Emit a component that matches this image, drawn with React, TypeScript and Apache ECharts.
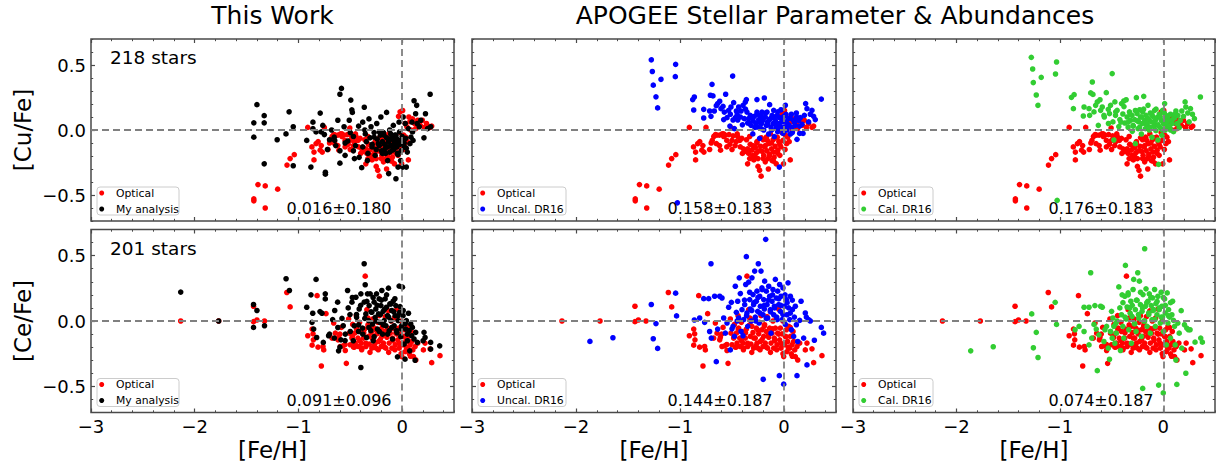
import React, { useEffect, useRef } from "react";
import * as echarts from "echarts";

// ---------- data: [ [Fe/H], [X/Fe] ] ----------
const cuOptical: number[][] = [
  [-1.43,-0.53],[-1.43,-0.545],[-1.39,-0.42],[-1.32,-0.43],[-1.32,-0.6],[-1.2,-0.455],[-1.11,-0.27],[-1.08,-0.22],[-1.04,-0.19],[-0.91,0.02],[-0.75,0.02],
  [-0.87,-0.13],[-0.85,-0.17],[-0.85,-0.23],[-0.83,-0.105],[-0.81,-0.09],[-0.79,-0.155],[-0.77,-0.17],[-0.715,-0.15],[-0.69,-0.08],[-0.675,-0.05],[-0.66,-0.035],[-0.645,-0.04],[-0.65,-0.105],[-0.62,-0.04],[-0.61,-0.155],[-0.595,-0.03],[-0.58,-0.05],[-0.565,-0.04],[-0.55,-0.13],[-0.53,-0.035],[-0.52,-0.11],[-0.505,0.015],[-0.5,-0.08],[-0.49,-0.045],[-0.47,-0.12],[-0.46,-0.09],[-0.445,-0.05],[-0.425,-0.08],[-0.42,-0.13],[-0.405,-0.065],[-0.39,-0.145],[-0.37,-0.165],[-0.36,-0.075],[-0.35,-0.145],[-0.34,-0.18],[-0.33,-0.22],[-0.325,-0.11],[-0.31,-0.155],[-0.3,-0.195],[-0.29,-0.23],[-0.275,-0.135],[-0.265,-0.175],[-0.26,-0.09],[-0.25,-0.22],[-0.235,-0.31],[-0.225,-0.125],[-0.22,-0.355],[-0.21,-0.165],[-0.2,-0.075],[-0.195,-0.195],[-0.185,-0.13],[-0.18,-0.245],[-0.17,-0.055],[-0.165,-0.16],[-0.155,-0.22],[-0.145,-0.105],[-0.14,-0.185],[-0.13,-0.03],[-0.12,-0.145],[-0.115,-0.235],[-0.105,-0.075],[-0.1,-0.17],[-0.095,-0.21],[-0.085,-0.125],[-0.075,-0.26],[-0.065,-0.055],[-0.06,-0.155],[-0.05,-0.09],[-0.04,-0.195],[-0.035,0.105],[-0.03,-0.13],[-0.02,0.14],[-0.01,-0.08],[-0.005,-0.26],[0.005,0.15],[0.015,-0.04],[0.025,-0.105],[0.035,-0.055],[0.045,0.025],[0.06,-0.23],[0.065,0.1],[0.075,0.065],[0.085,0.0],[0.1,0.085],[0.12,0.05],[0.13,0.01],[0.15,0.075],[0.175,0.035],[0.195,0.075],[0.215,0.02],[0.235,0.05],[0.27,0.02],[0.285,0.03],
  [-0.33,-0.05],[-0.3,-0.12],[-0.28,-0.2],[-0.26,-0.1],[-0.24,-0.16],[-0.22,-0.06],[-0.2,-0.22],[-0.18,-0.12],[-0.16,-0.08],[-0.14,-0.2],[-0.12,-0.1],[-0.1,-0.24],[-0.08,-0.06],[-0.06,-0.18],[-0.04,-0.11],[-0.02,-0.02],[0.01,-0.15],[0.03,0.05],[0.05,-0.09],[-0.4,-0.18],[-0.45,-0.03],[-0.55,-0.08],[-0.62,-0.12],[-0.7,-0.1],[-0.78,-0.12],[-0.5,-0.15],[-0.35,-0.26],[-0.25,-0.28],[-0.15,-0.3],[-0.58,-0.03],
];

const cuMine: number[][] = [
  [-1.43,0.055],[-1.43,-0.055],[-1.4,0.195],[-1.33,0.11],[-1.33,0.055],[-1.33,-0.26],[-1.205,-0.075],
  [-1.09,0.14],[-1.05,0.025],[-1.12,-0.03],[-1.05,-0.275],[-0.92,-0.08],[-0.88,-0.285],[-0.86,0.06],[-0.86,0.01],[-0.83,-0.015],[-0.79,0.13],[-0.78,-0.015],[-0.765,0.035],[-0.75,-0.035],[-0.74,-0.325],[-0.74,-0.34],[-0.72,-0.15],[-0.7,-0.075],[-0.68,0.0],[-0.655,-0.055],[-0.64,-0.12],[-0.62,0.075],[-0.6,-0.255],[-0.6,0.275],[-0.585,0.32],[-0.56,0.025],[-0.55,-0.195],[-0.525,-0.085],[-0.51,0.075],[-0.495,0.23],[-0.485,0.155],[-0.48,0.135],[-0.47,-0.05],[-0.46,-0.22],[-0.415,-0.21],[-0.39,-0.29],[-0.38,0.06],[-0.365,0.175],[-0.355,-0.03],[-0.345,-0.09],[-0.335,-0.235],[-0.32,0.085],[-0.3,0.025],[-0.29,-0.13],[-0.27,-0.055],[-0.26,-0.195],[-0.245,0.05],[-0.23,-0.105],[-0.22,-0.015],[-0.205,0.1],[-0.19,-0.18],[-0.175,-0.04],[-0.165,-0.145],[-0.15,0.135],[-0.14,-0.235],[-0.13,-0.335],[-0.125,-0.08],[-0.12,0.0],[-0.11,-0.12],[-0.1,-0.055],[-0.095,-0.155],[-0.085,0.035],[-0.075,-0.09],[-0.07,-0.04],[-0.06,-0.13],[-0.06,-0.375],[-0.055,-0.065],[-0.045,-0.18],[-0.04,-0.285],[-0.035,-0.105],[-0.03,0.06],[-0.025,-0.015],[-0.015,-0.235],[-0.005,-0.08],[0.005,-0.285],[0.01,0.1],[0.02,-0.13],[0.03,0.05],[0.035,-0.065],[0.04,-0.285],[0.05,-0.17],[0.06,0.01],[0.075,-0.105],[0.085,-0.055],[0.095,0.06],[0.1,-0.015],[0.105,-0.08],[0.115,0.225],[0.13,0.125],[0.14,0.19],[0.145,0.05],[0.165,0.025],[0.18,0.075],[0.21,-0.06],[0.225,0.125],[0.245,0.01],[0.27,0.275],[0.275,0.025],
  [-0.31,-0.06],[-0.29,-0.11],[-0.27,-0.02],[-0.25,-0.15],[-0.24,-0.07],[-0.22,-0.12],[-0.21,-0.04],[-0.2,-0.16],[-0.19,-0.09],[-0.18,-0.02],[-0.17,-0.11],[-0.16,-0.18],[-0.15,-0.06],[-0.14,-0.13],[-0.13,-0.09],[-0.12,-0.17],[-0.11,-0.03],[-0.1,-0.12],[-0.09,-0.07],[-0.08,-0.15],[-0.07,-0.1],[-0.06,-0.04],[-0.05,-0.13],[-0.04,-0.19],[-0.03,-0.08],[-0.02,-0.11],[-0.01,-0.16],[0.0,-0.05],[0.02,-0.1],[0.04,-0.14],[-0.45,-0.12],[-0.5,-0.02],[-0.55,-0.1],[-0.6,-0.16],[-0.38,-0.13],[-0.36,0.0],[-0.33,-0.18],[-0.42,0.03],[-0.47,-0.16],[-0.65,-0.08],
];

const cuUncal: number[][] = [
  [-1.276,0.54],[-1.266,0.45],[-1.257,0.345],[-1.231,0.255],[-1.215,0.17],[-1.183,0.39],[-1.042,0.505],[-1.045,0.41],[-1.026,-0.56],[-0.494,0.415],[0.359,0.238],
  [-0.878,0.234],[-0.862,0.254],[-0.868,0.154],[-0.772,0.159],[-0.772,0.092],[-0.715,0.146],[-0.702,0.105],[-0.692,0.351],[-0.708,0.267],[-0.683,0.262],[-0.67,0.146],[-0.651,0.187],[-0.638,0.203],[-0.618,0.221],[-0.606,0.164],[-0.586,0.182],[-0.574,0.138],[-0.561,0.275],[-0.548,0.095],[-0.532,0.151],[-0.516,0.121],[-0.51,0.177],[-0.49,0.077],[-0.484,0.21],[-0.477,0.01],[-0.468,0.095],[-0.458,0.146],[-0.445,0.077],[-0.436,0.177],[-0.42,0.1],[-0.413,0.146],[-0.394,0.19],[-0.381,0.087],[-0.372,0.215],[-0.362,0.234],[-0.356,0.138],[-0.349,0.054],[-0.34,0.087],[-0.324,0.113],[-0.317,0.036],[-0.298,0.074],[-0.285,0.105],[-0.272,0.054],[-0.26,0.234],[-0.26,0.138],[-0.253,0.023],[-0.243,0.08],[-0.234,-0.064],[-0.227,0.113],[-0.218,0.049],[-0.212,0.138],[-0.202,0.074],[-0.195,0.0],[-0.189,0.246],[-0.18,0.1],[-0.17,0.036],[-0.163,0.138],[-0.157,0.062],[-0.147,-0.031],[-0.138,0.195],[-0.131,0.087],[-0.125,0.021],[-0.115,0.113],[-0.106,0.049],[-0.099,0.151],[-0.093,-0.051],[-0.083,0.074],[-0.074,0.021],[-0.067,0.113],[-0.061,-0.013],[-0.051,0.049],[-0.045,-0.285],[-0.042,0.095],[-0.035,0.01],[-0.029,0.156],[-0.019,0.062],[-0.01,-0.026],[-0.003,0.105],[0.003,0.023],[0.013,0.19],[0.023,0.062],[0.029,0.0],[0.039,0.087],[0.048,0.036],[0.061,-0.031],[0.071,0.121],[0.077,0.021],[0.093,0.074],[0.109,0.036],[0.119,0.131],[0.125,-0.072],[0.141,0.074],[0.151,-0.026],[0.157,0.095],[0.173,0.044],[0.183,-0.026],[0.196,0.113],[0.208,0.203],[0.221,0.164],[0.237,0.062],[0.253,0.121],[0.269,0.151],[0.285,0.105],[0.301,0.08],
  [-0.33,0.05],[-0.31,0.1],[-0.28,0.02],[-0.26,0.12],[-0.24,0.06],[-0.22,0.01],[-0.2,0.09],[-0.18,0.13],[-0.16,0.04],[-0.14,0.08],[-0.12,0.0],[-0.1,0.1],[-0.08,0.05],[-0.06,0.14],[-0.04,0.03],[-0.02,0.08],[0.0,-0.01],[0.02,0.12],[0.04,0.04],[0.06,0.09],[0.08,-0.02],[0.1,0.06],[0.12,0.1],[0.15,0.03],[-0.4,0.04],[-0.45,0.12],[-0.52,0.03],[-0.58,0.08],[-0.37,0.16],[-0.3,-0.03],
];

const cuCal: number[][] = [
  [-1.276,0.559],[-1.263,0.469],[-1.257,0.365],[-1.228,0.269],[-1.212,0.19],[-1.18,0.405],[-1.032,0.523],[-1.042,0.431],[-1.026,-0.541],[-0.494,0.434],[0.359,0.254],
  [-0.888,0.251],[-0.862,0.272],[-0.869,0.164],[-0.766,0.177],[-0.773,0.108],[-0.718,0.164],[-0.712,0.113],[-0.702,0.285],[-0.686,0.369],[-0.68,0.274],[-0.67,0.139],[-0.654,0.19],[-0.638,0.216],[-0.628,0.036],[-0.612,0.233],[-0.606,0.151],[-0.59,0.177],[-0.574,0.113],[-0.551,0.287],[-0.532,0.159],[-0.52,0.126],[-0.51,0.19],[-0.487,0.062],[-0.478,-0.077],[-0.468,0.216],[-0.462,0.113],[-0.446,0.151],[-0.43,0.026],[-0.42,0.08],[-0.404,0.203],[-0.391,0.123],[-0.382,0.223],[-0.372,0.054],[-0.359,0.233],[-0.35,0.1],[-0.34,0.021],[-0.327,0.139],[-0.318,0.074],[-0.302,0.113],[-0.292,0.036],[-0.276,0.08],[-0.27,-0.105],[-0.26,0.249],[-0.253,0.126],[-0.244,0.01],[-0.237,0.062],[-0.228,0.156],[-0.221,0.1],[-0.212,-0.031],[-0.205,0.049],[-0.199,0.139],[-0.189,0.259],[-0.18,0.074],[-0.173,0.01],[-0.167,0.113],[-0.157,0.044],[-0.148,0.19],[-0.141,0.08],[-0.135,0.0],[-0.125,0.131],[-0.116,0.062],[-0.109,-0.056],[-0.103,0.105],[-0.093,0.028],[-0.084,0.151],[-0.077,0.074],[-0.071,-0.005],[-0.061,0.095],[-0.055,0.036],[-0.052,-0.077],[-0.045,-0.264],[-0.039,0.121],[-0.029,0.018],[-0.02,0.074],[-0.013,-0.041],[-0.007,0.151],[0.003,0.049],[0.013,0.203],[0.019,0.0],[0.029,0.095],[0.038,0.036],[0.051,0.074],[0.061,0.018],[0.07,0.121],[0.083,0.049],[0.099,-0.013],[0.109,0.095],[0.122,0.146],[0.131,0.049],[0.141,0.113],[0.154,0.018],[0.163,0.074],[0.179,0.146],[0.195,0.105],[0.211,0.216],[0.218,0.177],[0.237,0.131],[0.25,0.062],[0.263,0.164],[0.282,0.121],[0.301,0.087],
  [-0.34,0.06],[-0.32,0.12],[-0.29,0.03],[-0.27,0.15],[-0.25,0.07],[-0.23,0.02],[-0.21,0.1],[-0.19,0.16],[-0.17,0.05],[-0.15,0.09],[-0.13,0.02],[-0.11,0.12],[-0.09,0.06],[-0.07,0.16],[-0.05,0.04],[-0.03,0.1],[-0.01,0.0],[0.01,0.13],[0.03,0.06],[0.05,0.11],[0.07,0.0],[0.09,0.08],[0.11,0.12],[0.14,0.05],[-0.41,0.06],[-0.46,0.14],[-0.53,0.05],[-0.57,0.1],[-0.38,0.18],[-0.3,-0.01],
];

const ceOptical: number[][] = [
  [-2.135,0.0],[-1.769,0.0],[-1.433,0.113],[-1.4,0.008],[-1.433,-0.005],[-1.327,0.0],[-1.112,0.218],[-1.08,0.108],
  [-0.91,-0.113],[-0.868,-0.062],[-0.859,-0.098],[-0.856,-0.144],[-0.868,-0.185],[-0.82,0.194],[-0.811,-0.2],[-0.779,-0.344],[-0.763,-0.195],[-0.756,-0.221],[-0.734,0.056],[-0.676,-0.131],[-0.66,-0.015],[-0.644,-0.093],[-0.618,-0.144],[-0.612,-0.124],[-0.596,-0.195],[-0.586,-0.049],[-0.57,-0.19],[-0.548,-0.226],[-0.538,-0.324],[-0.516,0.015],[-0.51,-0.093],[-0.5,-0.182],[-0.484,-0.131],[-0.477,-0.026],[-0.468,-0.2],[-0.458,-0.093],[-0.452,-0.169],[-0.442,0.041],[-0.436,-0.054],[-0.426,-0.131],[-0.42,-0.195],[-0.41,-0.01],[-0.404,-0.08],[-0.394,-0.169],[-0.388,-0.208],[-0.372,-0.131],[-0.362,-0.062],[-0.356,0.343],[-0.349,-0.195],[-0.34,0.087],[-0.33,0.023],[-0.324,-0.118],[-0.317,-0.177],[-0.308,-0.041],[-0.298,-0.088],[-0.292,-0.208],[-0.282,0.015],[-0.276,-0.131],[-0.266,-0.054],[-0.26,-0.169],[-0.25,-0.208],[-0.243,-0.098],[-0.234,-0.01],[-0.227,-0.157],[-0.221,0.041],[-0.212,-0.067],[-0.202,-0.195],[-0.195,-0.118],[-0.186,-0.029],[-0.18,-0.169],[-0.17,-0.08],[-0.163,0.033],[-0.157,-0.208],[-0.147,-0.124],[-0.138,-0.054],[-0.131,0.077],[-0.125,-0.169],[-0.115,-0.093],[-0.106,0.0],[-0.099,-0.208],[-0.093,-0.131],[-0.083,-0.054],[-0.074,0.023],[-0.067,-0.182],[-0.061,-0.093],[-0.051,0.092],[-0.042,-0.144],[-0.035,-0.054],[-0.029,-0.208],[-0.019,-0.098],[-0.01,0.0],[-0.003,-0.272],[0.003,-0.182],[0.013,-0.118],[0.023,-0.067],[0.029,-0.234],[0.035,-0.157],[0.045,-0.041],[0.055,-0.208],[0.061,-0.118],[0.071,-0.252],[0.077,-0.182],[0.087,-0.08],[0.093,-0.157],[0.103,-0.221],[0.109,-0.272],[0.125,-0.195],[0.132,-0.298],[0.151,-0.169],[0.205,-0.221],[0.221,-0.169],[0.269,-0.213],[0.285,-0.319],[0.365,-0.265],
  [-0.48,-0.12],[-0.46,-0.2],[-0.44,-0.06],[-0.41,-0.15],[-0.39,-0.22],[-0.37,-0.09],[-0.35,-0.17],[-0.33,-0.03],[-0.31,-0.24],[-0.29,-0.13],[-0.27,-0.19],[-0.25,-0.07],[-0.23,-0.22],[-0.21,-0.14],[-0.19,-0.04],[-0.17,-0.2],[-0.15,-0.11],[-0.13,-0.24],[-0.11,-0.06],[-0.09,-0.15],[-0.07,-0.22],[-0.05,-0.1],[-0.03,-0.17],[-0.01,-0.25],[0.02,-0.12],[0.04,-0.2],[0.06,-0.05],[0.08,-0.27],[-0.55,-0.18],[-0.6,-0.1],
];

const ceMine: number[][] = [
  [-2.135,0.221],[-1.769,0.0],[-1.433,0.126],[-1.4,0.08],[-1.433,-0.049],[-1.327,-0.036],
  [-1.119,0.323],[-1.087,0.233],[-0.92,0.105],[-0.879,0.2],[-0.862,0.059],[-0.853,-0.062],[-0.869,-0.01],[-0.83,0.318],[-0.824,-0.126],[-0.792,0.072],[-0.773,0.059],[-0.76,-0.164],[-0.741,0.208],[-0.741,0.169],[-0.709,-0.113],[-0.67,0.01],[-0.654,-0.131],[-0.622,0.144],[-0.613,-0.228],[-0.59,-0.144],[-0.568,-0.036],[-0.548,-0.1],[-0.526,0.233],[-0.503,0.049],[-0.484,0.144],[-0.471,-0.151],[-0.462,-0.036],[-0.446,0.182],[-0.439,0.028],[-0.42,-0.08],[-0.414,0.092],[-0.398,-0.356],[-0.398,0.208],[-0.382,-0.054],[-0.366,0.438],[-0.366,0.144],[-0.356,0.277],[-0.35,0.054],[-0.343,-0.126],[-0.334,0.208],[-0.324,0.003],[-0.318,0.118],[-0.308,0.208],[-0.302,-0.074],[-0.292,0.067],[-0.286,-0.023],[-0.279,-0.151],[-0.27,0.144],[-0.26,0.028],[-0.254,0.092],[-0.247,0.208],[-0.238,-0.062],[-0.228,0.054],[-0.222,0.169],[-0.215,-0.01],[-0.205,0.118],[-0.196,0.233],[-0.189,-0.1],[-0.183,0.074],[-0.173,0.003],[-0.164,0.169],[-0.157,-0.036],[-0.151,0.105],[-0.141,0.041],[-0.132,0.251],[-0.125,-0.074],[-0.119,0.131],[-0.109,0.003],[-0.1,0.08],[-0.093,-0.138],[-0.087,0.151],[-0.077,-0.036],[-0.068,0.041],[-0.061,0.118],[-0.055,-0.074],[-0.045,-0.274],[-0.039,0.003],[-0.029,0.267],[-0.023,0.067],[-0.013,-0.12],[-0.004,-0.036],[0.003,0.259],[0.009,0.041],[0.019,-0.177],[0.028,-0.292],[0.035,-0.062],[0.041,0.003],[0.051,-0.151],[0.061,0.059],[0.067,-0.074],[0.073,-0.228],[0.083,-0.023],[0.093,-0.113],[0.099,-0.049],[0.115,-0.138],[0.125,-0.3],[0.131,-0.087],[0.147,-0.164],[0.211,-0.087],[0.202,-0.151],[0.221,-0.126],[0.275,-0.164],[0.275,-0.215],[0.362,-0.19],
  [-0.44,0.05],[-0.42,-0.03],[-0.4,0.12],[-0.38,-0.1],[-0.36,0.02],[-0.34,0.15],[-0.32,-0.05],[-0.3,0.07],[-0.28,0.18],[-0.27,-0.12],[-0.25,0.0],[-0.24,0.12],[-0.22,-0.08],[-0.21,0.05],[-0.2,0.16],[-0.18,-0.03],[-0.17,0.09],[-0.15,0.2],[-0.14,-0.1],[-0.13,0.03],[-0.11,0.13],[-0.1,-0.05],[-0.08,0.07],[-0.07,0.17],[-0.05,-0.09],[-0.04,0.04],[-0.02,0.11],[-0.01,-0.06],[0.01,0.08],[0.03,-0.02],[0.05,-0.1],[-0.5,-0.08],[-0.52,0.1],[-0.55,-0.15],[-0.58,0.02],[-0.62,-0.05],[-0.65,0.08],[-0.7,-0.1],[-0.48,0.18],[-0.6,-0.2],
];

const ceUncal: number[][] = [
  [-1.866,-0.156],[-1.645,-0.128],[-1.276,0.126],[-1.231,-0.02],[-1.257,-0.136],[-1.215,-0.21],[-1.042,0.213],[-1.033,0.039],
  [-0.862,0.008],[-0.811,0.023],[-0.772,0.171],[-0.763,-0.01],[-0.724,0.171],[-0.715,-0.08],[-0.702,0.438],[-0.699,-0.131],[-0.667,0.189],[-0.651,-0.311],[-0.638,-0.062],[-0.618,0.189],[-0.596,0.176],[-0.58,0.023],[-0.564,-0.093],[-0.548,-0.015],[-0.532,0.105],[-0.516,-0.221],[-0.506,0.143],[-0.49,-0.041],[-0.477,-0.118],[-0.468,0.266],[-0.458,0.066],[-0.445,0.151],[-0.436,0.023],[-0.43,0.33],[-0.42,0.21],[-0.413,-0.08],[-0.404,0.087],[-0.394,-0.113],[-0.388,0.01],[-0.378,0.125],[-0.368,0.279],[-0.362,0.492],[-0.356,0.061],[-0.349,-0.041],[-0.34,0.297],[-0.33,0.164],[-0.324,0.092],[-0.314,0.0],[-0.308,0.33],[-0.298,0.202],[-0.292,0.125],[-0.282,0.382],[-0.276,0.03],[-0.266,0.151],[-0.26,0.228],[-0.253,0.074],[-0.247,0.438],[-0.24,-0.015],[-0.234,0.189],[-0.227,0.113],[-0.221,0.382],[-0.212,0.253],[-0.202,0.048],[-0.2,-0.446],[-0.195,0.164],[-0.189,0.092],[-0.186,0.305],[-0.176,0.625],[-0.17,0.228],[-0.163,0.125],[-0.157,0.023],[-0.147,0.266],[-0.138,0.189],[-0.131,0.087],[-0.125,-0.093],[-0.115,0.151],[-0.106,0.241],[-0.099,0.048],[-0.093,0.113],[-0.083,0.318],[-0.074,0.176],[-0.067,0.01],[-0.061,0.228],[-0.051,0.125],[-0.045,-0.418],[-0.042,0.279],[-0.035,0.074],[-0.029,0.189],[-0.019,0.01],[-0.01,0.253],[-0.003,-0.483],[0.003,0.113],[0.013,-0.026],[0.023,0.164],[0.029,0.048],[0.039,0.292],[0.045,0.1],[0.055,0.01],[0.061,0.189],[0.071,-0.067],[0.081,0.087],[0.093,-0.118],[0.1,0.03],[0.109,0.113],[0.119,-0.029],[0.125,-0.418],[0.132,-0.157],[0.151,0.005],[0.164,0.151],[0.189,-0.131],[0.205,0.061],[0.215,0.03],[0.221,-0.336],[0.237,0.01],[0.253,0.0],[0.292,-0.147],[0.359,-0.049],[0.381,-0.093],
  [-0.38,0.16],[-0.36,0.04],[-0.33,0.22],[-0.31,0.08],[-0.29,0.14],[-0.27,0.0],[-0.25,0.18],[-0.23,0.06],[-0.21,0.24],[-0.19,0.12],[-0.17,0.02],[-0.15,0.16],[-0.13,0.07],[-0.11,0.2],[-0.09,0.1],[-0.07,0.03],[-0.05,0.17],[-0.03,0.12],[-0.01,0.05],[0.01,0.2],[0.03,0.14],[0.06,0.06],[0.08,0.16],[-0.45,0.0],[-0.5,-0.06],
];

const ceCal: number[][] = [
  [-1.862,-0.228],[-1.644,-0.197],[-1.272,0.054],[-1.228,-0.087],[-1.256,-0.205],[-1.211,-0.279],[-1.045,0.143],[-1.032,-0.026],
  [-0.853,-0.067],[-0.814,-0.041],[-0.766,0.105],[-0.718,0.105],[-0.702,0.369],[-0.766,-0.08],[-0.718,-0.183],[-0.692,-0.131],[-0.67,-0.026],[-0.661,0.118],[-0.648,-0.062],[-0.638,-0.38],[-0.622,-0.106],[-0.606,0.113],[-0.59,0.105],[-0.574,-0.157],[-0.564,-0.067],[-0.548,-0.041],[-0.532,-0.208],[-0.52,-0.293],[-0.51,-0.08],[-0.5,0.074],[-0.494,-0.131],[-0.487,0.023],[-0.478,-0.041],[-0.468,-0.17],[-0.455,-0.093],[-0.446,0.0],[-0.43,0.261],[-0.42,0.1],[-0.414,-0.226],[-0.404,0.048],[-0.398,0.2],[-0.391,-0.041],[-0.382,-0.131],[-0.372,0.189],[-0.366,0.425],[-0.359,0.015],[-0.35,0.107],[-0.34,0.215],[-0.334,-0.067],[-0.324,0.1],[-0.314,0.151],[-0.308,-0.17],[-0.302,0.035],[-0.292,0.241],[-0.286,0.318],[-0.276,-0.021],[-0.27,0.087],[-0.263,-0.08],[-0.253,0.158],[-0.247,0.369],[-0.237,0.023],[-0.231,0.305],[-0.221,0.125],[-0.212,-0.118],[-0.205,0.074],[-0.199,-0.516],[-0.196,0.202],[-0.186,0.0],[-0.18,0.553],[-0.173,0.113],[-0.167,0.246],[-0.157,-0.041],[-0.148,0.151],[-0.141,0.061],[-0.135,0.207],[-0.125,-0.093],[-0.116,0.118],[-0.109,0.01],[-0.103,0.177],[-0.093,0.087],[-0.084,0.241],[-0.077,-0.041],[-0.071,0.133],[-0.061,0.048],[-0.052,0.189],[-0.045,-0.49],[-0.039,0.087],[-0.029,-0.015],[-0.02,0.22],[-0.013,0.113],[-0.007,0.03],[0.0,-0.55],[0.003,-0.08],[0.013,0.169],[0.019,0.061],[0.029,-0.183],[0.038,0.215],[0.045,-0.015],[0.051,0.087],[0.061,0.03],[0.07,-0.131],[0.083,0.048],[0.09,0.151],[0.099,0.005],[0.109,-0.041],[0.115,-0.183],[0.122,-0.298],[0.131,-0.485],[0.141,-0.016],[0.154,-0.093],[0.173,0.079],[0.179,-0.208],[0.205,-0.029],[0.218,-0.4],[0.227,-0.054],[0.243,-0.067],[0.259,-0.067],[0.307,-0.162],[0.362,-0.131],[0.378,-0.162],
  [-0.39,0.14],[-0.37,0.03],[-0.34,0.2],[-0.32,0.06],[-0.3,0.12],[-0.28,-0.02],[-0.26,0.16],[-0.24,0.05],[-0.22,0.22],[-0.2,0.1],[-0.18,0.0],[-0.16,0.14],[-0.14,0.05],[-0.12,0.18],[-0.1,0.08],[-0.08,0.01],[-0.06,0.15],[-0.04,0.1],[-0.02,0.03],[0.0,0.18],[0.02,0.12],[0.05,0.04],[0.07,0.14],[-0.46,-0.02],[-0.51,-0.08],
];

const titles = ["This Work", "APOGEE Stellar Parameter & Abundances"];
const rowLabels = ["[Cu/Fe]", "[Ce/Fe]"];
const xLabel = "[Fe/H]";
const starCounts = ["218 stars", "201 stars"];
const compLabels = ["My analysis", "Uncal. DR16", "Cal. DR16"];
const stats = [
  ["0.016±0.180", "0.158±0.183", "0.176±0.183"],
  ["0.091±0.096", "0.144±0.187", "0.074±0.187"],
];
const yMajorTicks = [-0.5, 0, 0.5];

// ---------- layout / style ----------
const FONT = "'DejaVu Sans', sans-serif";
const FRAME = "#4a4a4a";
const COL_LEFT = [91, 472, 853];
const COL_W = [363, 364, 362];
const ROW_TOP = [39, 229.5];
const ROW_H = [182, 183];
const LEG_W = [82, 88, 74];
const COMP_COLORS = ["#000000", "#0000ff", "#32cd32"];
const RED = "#ff0000";
const DOT = 5.6;

const fmtMinus = (s: string) => s.replace("-", "\u2212");

function buildOption() {
  const grid: any[] = [];
  const xAxis: any[] = [];
  const yAxis: any[] = [];
  const series: any[] = [];
  const graphic: any[] = [];

  const rowsOptical = [cuOptical, ceOptical];
  const rowsComp = [
    [cuMine, cuUncal, cuCal],
    [ceMine, ceUncal, ceCal],
  ];

  for (let r = 0; r < 2; r++) {
    for (let c = 0; c < 3; c++) {
      const g = r * 3 + c;
      grid.push({
        left: COL_LEFT[c], top: ROW_TOP[r], width: COL_W[c], height: ROW_H[r],
        show: true, borderColor: FRAME, borderWidth: 1.5, backgroundColor: "transparent",
      });
      const tickMajor = { inside: true, length: 4, lineStyle: { color: FRAME, width: 1.2 } };
      const tickMinor = { inside: true, length: 2.2, lineStyle: { color: FRAME, width: 1 } };
      const xb = {
        gridIndex: g, type: "value", min: -3, max: 0.5,
        axisLine: { show: false, onZero: false }, splitLine: { show: false },
      };
      xAxis.push(
        {
          ...xb, position: "bottom", interval: 1, axisTick: tickMajor,
          axisLabel: {
            show: r === 1, showMaxLabel: false, margin: 5, fontSize: 18, lineHeight: 18,
            color: "#000", fontFamily: FONT,
            formatter: (v: number) => fmtMinus(String(Math.round(v))),
          },
        },
        { ...xb, position: "bottom", interval: 0.2, axisTick: tickMinor, axisLabel: { show: false } },
        { ...xb, position: "top", interval: 1, axisTick: tickMajor, axisLabel: { show: false } },
        { ...xb, position: "top", interval: 0.2, axisTick: tickMinor, axisLabel: { show: false } },
      );
      const yb = {
        gridIndex: g, type: "value", min: -0.7, max: 0.7,
        axisLine: { show: false, onZero: false }, splitLine: { show: false },
      };
      yAxis.push(
        {
          ...yb, position: "left",
          axisTick: { ...tickMajor, customValues: yMajorTicks },
          axisLabel: {
            show: c === 0, customValues: yMajorTicks, margin: 5, fontSize: 18, color: "#000", fontFamily: FONT,
            formatter: (v: number) => fmtMinus(v.toFixed(1)),
          },
        },
        { ...yb, position: "left", interval: 0.1, axisTick: tickMinor, axisLabel: { show: false } },
        { ...yb, position: "right", axisTick: { ...tickMajor, customValues: yMajorTicks }, axisLabel: { show: false } },
        { ...yb, position: "right", interval: 0.1, axisTick: tickMinor, axisLabel: { show: false } },
      );

      series.push({
        type: "scatter", name: "Optical", xAxisIndex: g * 4, yAxisIndex: g * 4,
        data: rowsOptical[r], symbolSize: DOT, itemStyle: { color: RED, opacity: 1 },
        emphasis: { disabled: true }, z: 2,
      });
      series.push({
        type: "scatter", name: compLabels[c], xAxisIndex: g * 4, yAxisIndex: g * 4,
        data: rowsComp[r][c], symbolSize: DOT, itemStyle: { color: COMP_COLORS[c], opacity: 1 },
        emphasis: { disabled: true }, z: 3,
        markLine: {
          silent: true, symbol: ["none", "none"], label: { show: false },
          lineStyle: { color: "#808080", width: 1.8, type: [7, 4] },
          emphasis: { disabled: true },
          data: [{ xAxis: 0 }, { yAxis: 0 }],
        },
      });

      const left = COL_LEFT[c];
      const bottom = ROW_TOP[r] + ROW_H[r];

      // stats text
      graphic.push({
        type: "text", x: left + 248, y: bottom - 12.5, z: 100,
        style: { text: stats[r][c], fill: "#000", font: `16px ${FONT}`, align: "center", verticalAlign: "middle" },
      });
      // legend box
      const lt = bottom - 6 - 28;
      graphic.push({
        type: "rect", z: 100,
        shape: { x: left + 6, y: lt, width: LEG_W[c], height: 28, r: 3 },
        style: { fill: "rgba(255,255,255,0.8)", stroke: "#cccccc", lineWidth: 1 },
      });
      const legItems = [["Optical", RED], [compLabels[c], COMP_COLORS[c]]];
      legItems.forEach(([label, color], i) => {
        const cy = lt + 6 + i * 16;
        graphic.push({ type: "circle", z: 101, shape: { cx: left + 10.7, cy, r: 2.5 }, style: { fill: color } });
        graphic.push({
          type: "text", z: 101, x: left + 25, y: cy,
          style: { text: label, fill: "#000", font: `10.8px ${FONT}`, align: "left", verticalAlign: "middle" },
        });
      });
    }
    // star count
    graphic.push({
      type: "text", x: 110, y: ROW_TOP[r] + 18.5, z: 100,
      style: { text: starCounts[r], fill: "#000", font: `18.5px ${FONT}`, align: "left", verticalAlign: "middle" },
    });
    // row label
    graphic.push({
      type: "text", x: 22.5, y: ROW_TOP[r] + ROW_H[r] / 2, rotation: Math.PI / 2, z: 100,
      style: { text: rowLabels[r], fill: "#000", font: `23px ${FONT}`, align: "center", verticalAlign: "middle" },
    });
  }
  for (let c = 0; c < 3; c++) {
    graphic.push({
      type: "text", x: COL_LEFT[c] + COL_W[c] / 2, y: 450, z: 100,
      style: { text: xLabel, fill: "#000", font: `23px ${FONT}`, align: "center", verticalAlign: "middle" },
    });
  }
  graphic.push({
    type: "text", x: 272.5, y: 15, z: 100,
    style: { text: titles[0], fill: "#000", font: `25px ${FONT}`, align: "center", verticalAlign: "middle" },
  });
  graphic.push({
    type: "text", x: 835, y: 15, z: 100,
    style: { text: titles[1], fill: "#000", font: `25px ${FONT}`, align: "center", verticalAlign: "middle" },
  });

  return {
    animation: false,
    backgroundColor: "#ffffff",
    textStyle: { fontFamily: FONT },
    grid, xAxis, yAxis, series, graphic,
  };
}

export default function App() {
  const ref = useRef<HTMLDivElement>(null);
  useEffect(() => {
    if (!ref.current) return;
    const chart = echarts.init(ref.current, null, { renderer: "svg" });
    chart.setOption(buildOption() as any);
    return () => chart.dispose();
  }, []);
  return (
    <div
      ref={ref}
      style={{ position: "fixed", left: 0, top: 0, width: 1216, height: 470, background: "#fff" }}
    />
  );
}
